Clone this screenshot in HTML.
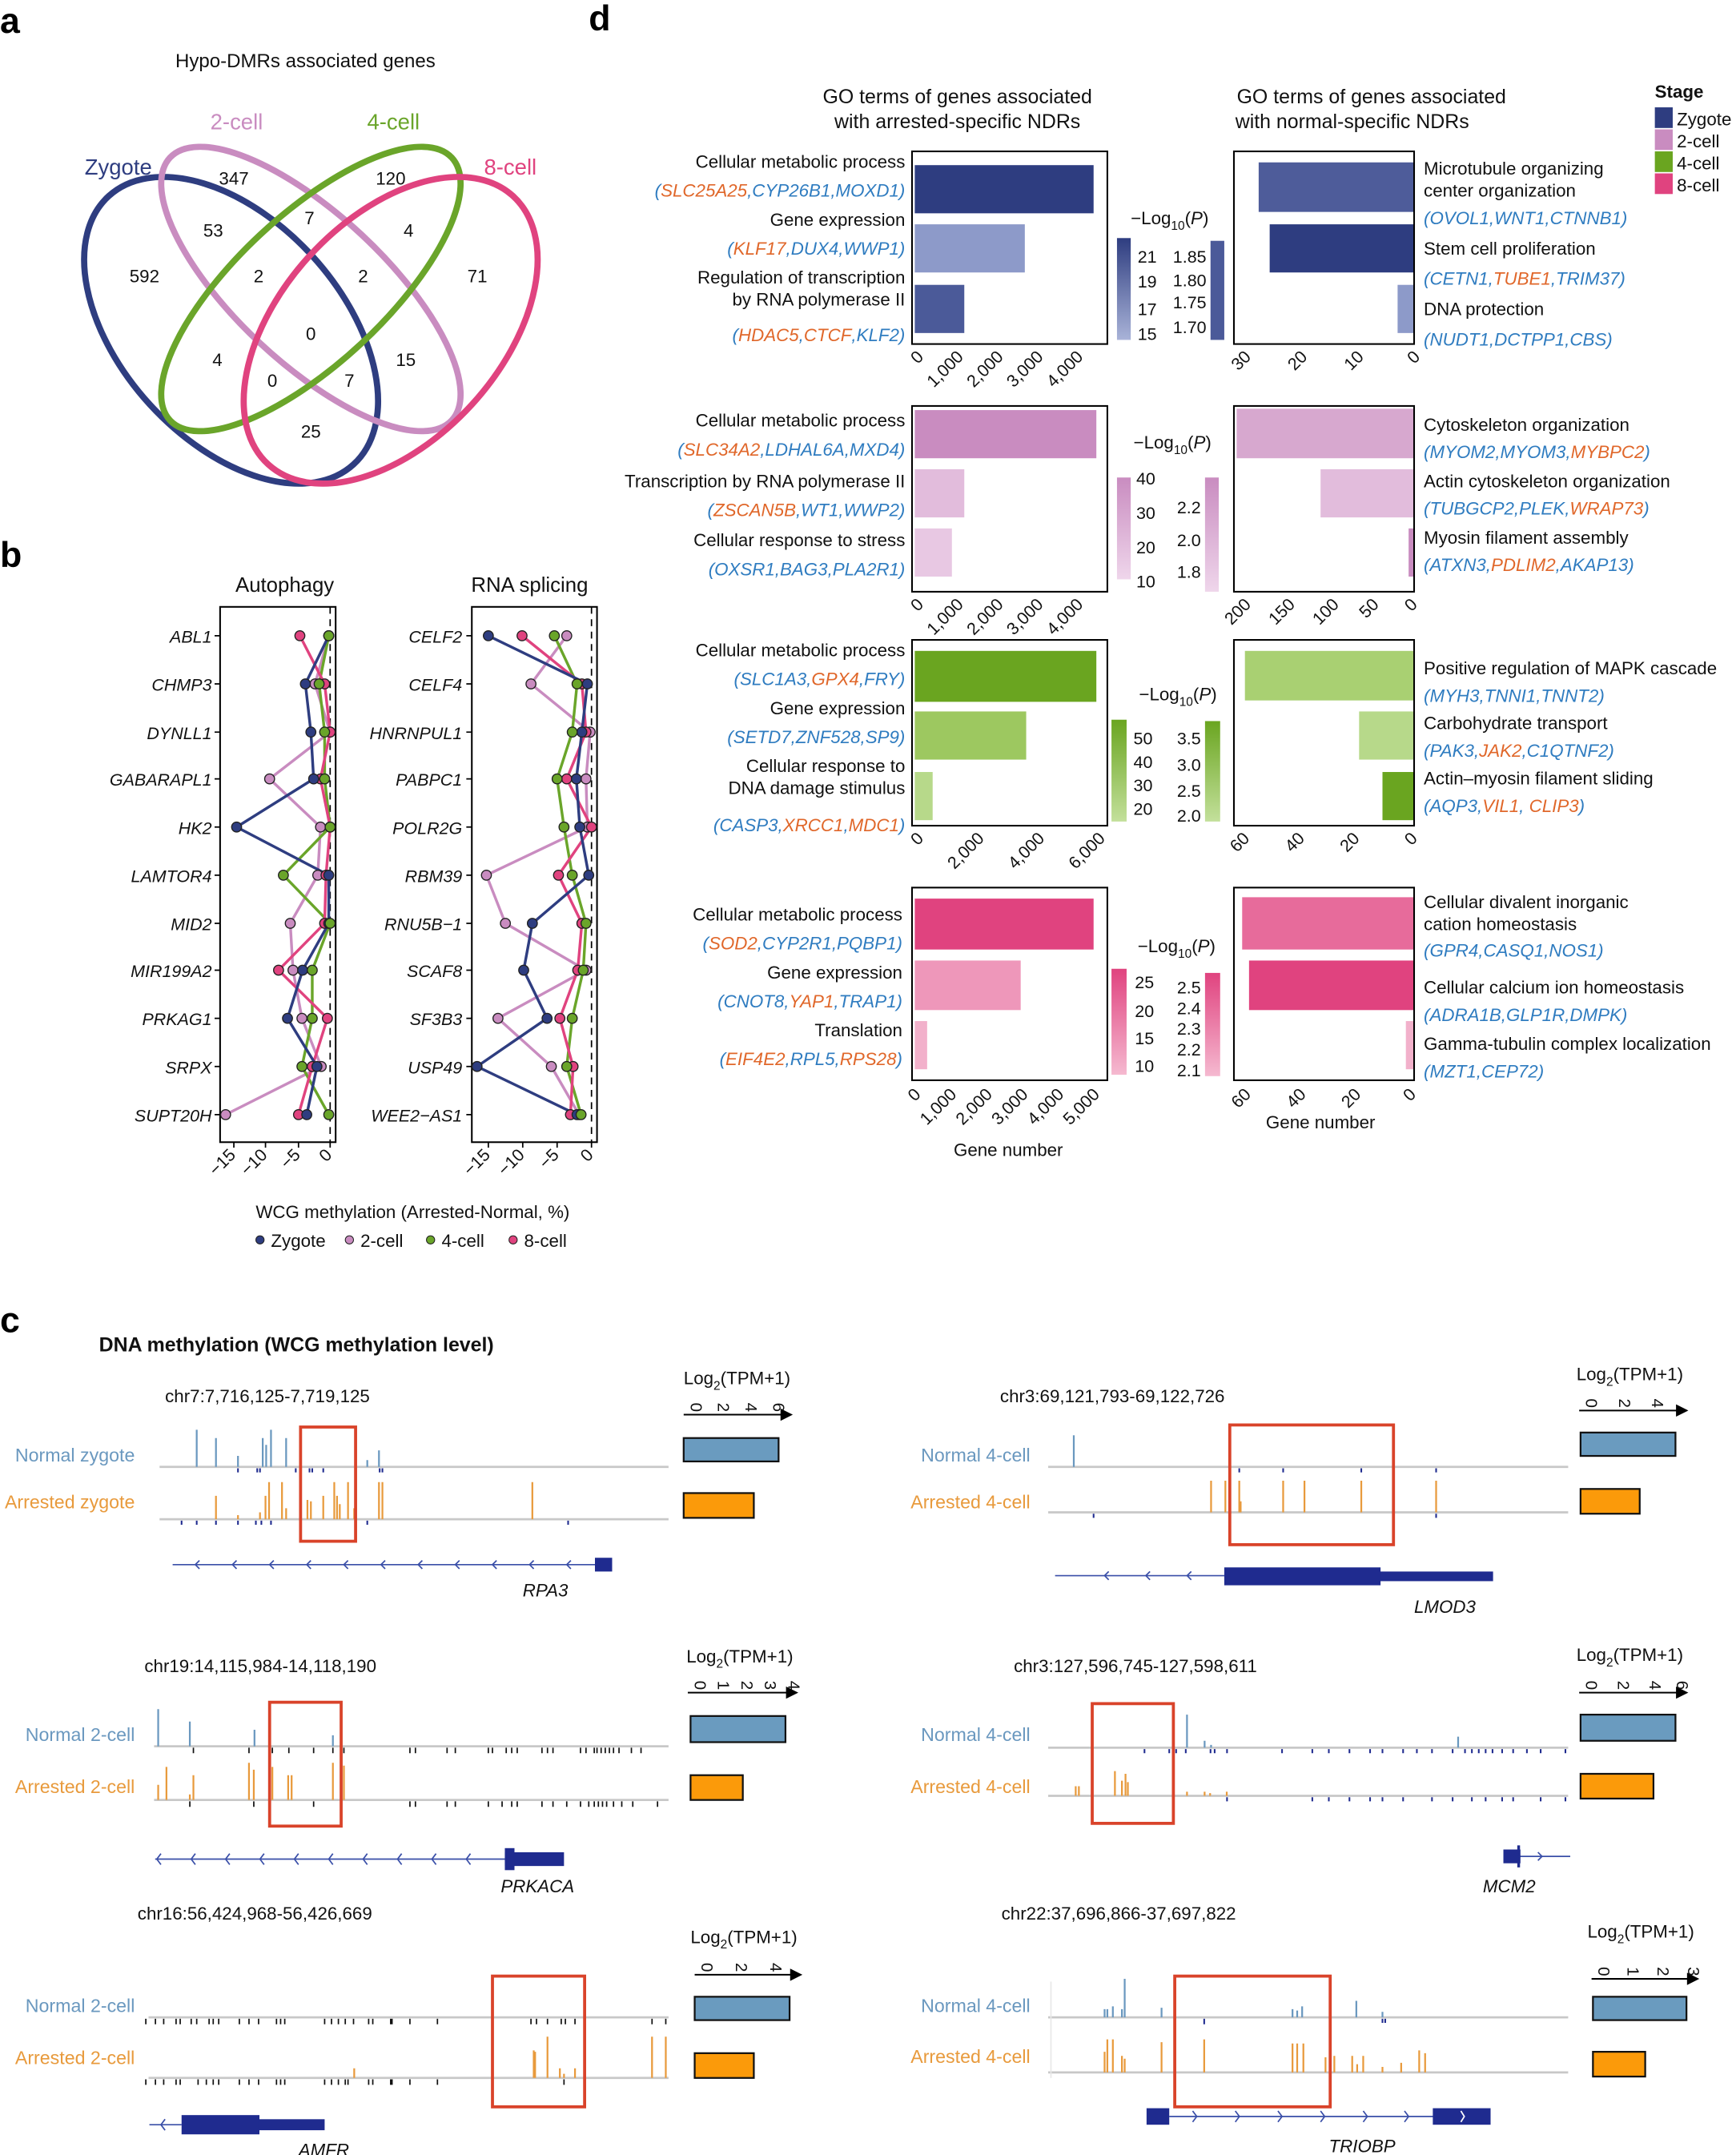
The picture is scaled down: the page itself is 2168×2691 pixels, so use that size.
<!DOCTYPE html>
<html><head><meta charset="utf-8">
<style>
html,body{margin:0;padding:0;background:#fff;}
svg{display:block;}
text{font-family:"Liberation Sans Narrow","Liberation Sans",sans-serif;}
.s{font-size:13px;fill:#111;}
.g{font-size:13px;font-style:italic;}
.bl{fill:#2f7cc0;}
.or{fill:#e0672a;}
.tk{font-size:12.5px;fill:#111;}
.pl{font-size:26px;font-weight:bold;font-family:"Liberation Sans",sans-serif;}
</style></head>
<body>
<svg width="2168" height="2691" viewBox="0 0 1262 1566" preserveAspectRatio="none" xmlns="http://www.w3.org/2000/svg">
<rect width="1262" height="1566" fill="#fff"/>
<defs>
<linearGradient id="gz" x1="0" y1="0" x2="0" y2="1"><stop offset="0" stop-color="#2e3d80"/><stop offset="1" stop-color="#a9b3d8"/></linearGradient>
<linearGradient id="g2" x1="0" y1="0" x2="0" y2="1"><stop offset="0" stop-color="#c98cc0"/><stop offset="1" stop-color="#efd6eb"/></linearGradient>
<linearGradient id="g4" x1="0" y1="0" x2="0" y2="1"><stop offset="0" stop-color="#6aa520"/><stop offset="1" stop-color="#c3e09b"/></linearGradient>
<linearGradient id="g8" x1="0" y1="0" x2="0" y2="1"><stop offset="0" stop-color="#e0437f"/><stop offset="1" stop-color="#f5b9d0"/></linearGradient>
</defs>

<!-- panel letters -->
<text x="0" y="24" class="pl">a</text>
<text x="0" y="412" class="pl">b</text>
<text x="0" y="968" class="pl">c</text>
<text x="428" y="22" class="pl">d</text>

<!-- ===== a: Venn ===== -->
<text x="222" y="49" class="s" style="font-size:14px" text-anchor="middle">Hypo-DMRs associated genes</text>
<g fill="none" stroke-width="4.5">
<ellipse cx="168" cy="240" rx="132" ry="80" transform="rotate(47.6 168 240)" stroke="#2e3d80"/>
<ellipse cx="226" cy="210" rx="140" ry="54" transform="rotate(43 226 210)" stroke="#c98cc0"/>
<ellipse cx="226" cy="210" rx="140" ry="54" transform="rotate(-43 226 210)" stroke="#6aa52a"/>
<ellipse cx="284" cy="240" rx="132" ry="80" transform="rotate(-47.6 284 240)" stroke="#e0437f"/>
</g>
<g style="font-size:16px" text-anchor="middle">
<text x="86" y="127" fill="#2e3d80">Zygote</text>
<text x="172" y="94" fill="#c98cc0">2-cell</text>
<text x="286" y="94" fill="#6aa52a">4-cell</text>
<text x="371" y="127" fill="#e0437f">8-cell</text>
</g>
<g class="s" text-anchor="middle" style="font-size:13px">
<text x="170" y="134">347</text><text x="284" y="134">120</text>
<text x="155" y="172">53</text><text x="225" y="163">7</text><text x="297" y="172">4</text>
<text x="105" y="205">592</text><text x="188" y="205">2</text><text x="264" y="205">2</text><text x="347" y="205">71</text>
<text x="226" y="247">0</text>
<text x="158" y="266">4</text><text x="198" y="281">0</text><text x="254" y="281">7</text><text x="295" y="266">15</text>
<text x="226" y="318">25</text>
</g>

<!-- ===== b ===== -->
<text x="207" y="430" class="s" style="font-size:15px" text-anchor="middle">Autophagy</text>
<text x="385" y="430" class="s" style="font-size:15px" text-anchor="middle">RNA splicing</text>
<rect x="160" y="441" width="84" height="389" fill="none" stroke="#000" stroke-width="1.2"/>
<rect x="343" y="441" width="91" height="389" fill="none" stroke="#000" stroke-width="1.2"/>
<line x1="240" y1="441" x2="240" y2="830" stroke="#000" stroke-dasharray="5,4"/>
<line x1="430" y1="441" x2="430" y2="830" stroke="#000" stroke-dasharray="5,4"/>
<g class="g" fill="#111" text-anchor="end" style="font-size:12.5px">
<text x="154" y="467">ABL1</text><text x="154" y="502">CHMP3</text><text x="154" y="537">DYNLL1</text><text x="154" y="571">GABARAPL1</text><text x="154" y="606">HK2</text><text x="154" y="641">LAMTOR4</text><text x="154" y="676">MID2</text><text x="154" y="710">MIR199A2</text><text x="154" y="745">PRKAG1</text><text x="154" y="780">SRPX</text><text x="154" y="815">SUPT20H</text>
<text x="336" y="467">CELF2</text><text x="336" y="502">CELF4</text><text x="336" y="537">HNRNPUL1</text><text x="336" y="571">PABPC1</text><text x="336" y="606">POLR2G</text><text x="336" y="641">RBM39</text><text x="336" y="676">RNU5B−1</text><text x="336" y="710">SCAF8</text><text x="336" y="745">SF3B3</text><text x="336" y="780">USP49</text><text x="336" y="815">WEE2−AS1</text>
</g>
<g stroke="#000" stroke-width="1">
<path d="M156 462h4M156 497h4M156 532h4M156 566h4M156 601h4M156 636h4M156 671h4M156 705h4M156 740h4M156 775h4M156 810h4"/>
<path d="M339 462h4M339 497h4M339 532h4M339 566h4M339 601h4M339 636h4M339 671h4M339 705h4M339 740h4M339 775h4M339 810h4"/>
<path d="M170 830v4M193 830v4M217 830v4M240 830v4M355 830v4M380 830v4M405 830v4M430 830v4"/>
</g>
<g class="tk" text-anchor="end">
<text transform="translate(172,840) rotate(-45)">−15</text>
<text transform="translate(195,840) rotate(-45)">−10</text>
<text transform="translate(219,840) rotate(-45)">−5</text>
<text transform="translate(242,840) rotate(-45)">0</text>
<text transform="translate(357,840) rotate(-45)">−15</text>
<text transform="translate(382,840) rotate(-45)">−10</text>
<text transform="translate(407,840) rotate(-45)">−5</text>
<text transform="translate(432,840) rotate(-45)">0</text>
</g>
<!-- lines -->
<g fill="none" stroke-width="2">
<polyline stroke="#c98cc0" points="239,462 229,497 240,532 196,566 233,601 231,636 211,671 213,705 219.5,740 233.5,775 164,810"/>
<polyline stroke="#6aa52a" points="239,462 232,497 236,532 236,566 240,601 206,636 240,671 227,705 227,740 219.5,775 239,810"/>
<polyline stroke="#e0437f" points="218,462 236,497 240,532 233,566 240,601 237,636 236,671 202.5,705 238,740 227,775 217,810"/>
<polyline stroke="#2e3d80" points="239,462 222,497 226,532 228,566 172,601 239,636 239,671 220,705 209,740 230.4,775 223,810"/>
<polyline stroke="#c98cc0" points="412,462 386,497 429,532 426,566 427,601 353.6,636 367.4,671 426,705 362,740 400.8,775 421,810"/>
<polyline stroke="#6aa52a" points="403,462 419.5,497 416,532 405,566 410,601 416,636 426,671 424,705 416,740 412,775 422.4,810"/>
<polyline stroke="#e0437f" points="379.5,462 423,497 426,532 412,566 430,601 406,636 423,671 420,705 407,740 416.6,775 414.7,810"/>
<polyline stroke="#2e3d80" points="355,462 427,497 423,532 419,566 421.5,601 428,636 387,671 380.7,705 397.7,740 346.8,775 419.5,810"/>
</g>
<g stroke="#222" stroke-width="0.8">
<g fill="#c98cc0"><circle cx="239" cy="462" r="3.6"/><circle cx="229" cy="497" r="3.6"/><circle cx="240" cy="532" r="3.6"/><circle cx="196" cy="566" r="3.6"/><circle cx="233" cy="601" r="3.6"/><circle cx="231" cy="636" r="3.6"/><circle cx="211" cy="671" r="3.6"/><circle cx="213" cy="705" r="3.6"/><circle cx="219.5" cy="740" r="3.6"/><circle cx="233.5" cy="775" r="3.6"/><circle cx="164" cy="810" r="3.6"/>
<circle cx="412" cy="462" r="3.6"/><circle cx="386" cy="497" r="3.6"/><circle cx="429" cy="532" r="3.6"/><circle cx="426" cy="566" r="3.6"/><circle cx="427" cy="601" r="3.6"/><circle cx="353.6" cy="636" r="3.6"/><circle cx="367.4" cy="671" r="3.6"/><circle cx="426" cy="705" r="3.6"/><circle cx="362" cy="740" r="3.6"/><circle cx="400.8" cy="775" r="3.6"/><circle cx="421" cy="810" r="3.6"/></g>
<g fill="#e0437f"><circle cx="218" cy="462" r="3.6"/><circle cx="236" cy="497" r="3.6"/><circle cx="240" cy="532" r="3.6"/><circle cx="233" cy="566" r="3.6"/><circle cx="240" cy="601" r="3.6"/><circle cx="237" cy="636" r="3.6"/><circle cx="236" cy="671" r="3.6"/><circle cx="202.5" cy="705" r="3.6"/><circle cx="238" cy="740" r="3.6"/><circle cx="227" cy="775" r="3.6"/><circle cx="217" cy="810" r="3.6"/>
<circle cx="379.5" cy="462" r="3.6"/><circle cx="423" cy="497" r="3.6"/><circle cx="426" cy="532" r="3.6"/><circle cx="412" cy="566" r="3.6"/><circle cx="430" cy="601" r="3.6"/><circle cx="406" cy="636" r="3.6"/><circle cx="423" cy="671" r="3.6"/><circle cx="420" cy="705" r="3.6"/><circle cx="407" cy="740" r="3.6"/><circle cx="416.6" cy="775" r="3.6"/><circle cx="414.7" cy="810" r="3.6"/></g>
<g fill="#2e3d80"><circle cx="239" cy="462" r="3.6"/><circle cx="222" cy="497" r="3.6"/><circle cx="226" cy="532" r="3.6"/><circle cx="228" cy="566" r="3.6"/><circle cx="172" cy="601" r="3.6"/><circle cx="239" cy="636" r="3.6"/><circle cx="239" cy="671" r="3.6"/><circle cx="220" cy="705" r="3.6"/><circle cx="209" cy="740" r="3.6"/><circle cx="230.4" cy="775" r="3.6"/><circle cx="223" cy="810" r="3.6"/>
<circle cx="355" cy="462" r="3.6"/><circle cx="427" cy="497" r="3.6"/><circle cx="423" cy="532" r="3.6"/><circle cx="419" cy="566" r="3.6"/><circle cx="421.5" cy="601" r="3.6"/><circle cx="428" cy="636" r="3.6"/><circle cx="387" cy="671" r="3.6"/><circle cx="380.7" cy="705" r="3.6"/><circle cx="397.7" cy="740" r="3.6"/><circle cx="346.8" cy="775" r="3.6"/><circle cx="419.5" cy="810" r="3.6"/></g>
<g fill="#6aa52a"><circle cx="239" cy="462" r="3.6"/><circle cx="232" cy="497" r="3.6"/><circle cx="236" cy="532" r="3.6"/><circle cx="236" cy="566" r="3.6"/><circle cx="240" cy="601" r="3.6"/><circle cx="206" cy="636" r="3.6"/><circle cx="240" cy="671" r="3.6"/><circle cx="227" cy="705" r="3.6"/><circle cx="227" cy="740" r="3.6"/><circle cx="219.5" cy="775" r="3.6"/><circle cx="239" cy="810" r="3.6"/>
<circle cx="403" cy="462" r="3.6"/><circle cx="419.5" cy="497" r="3.6"/><circle cx="416" cy="532" r="3.6"/><circle cx="405" cy="566" r="3.6"/><circle cx="410" cy="601" r="3.6"/><circle cx="416" cy="636" r="3.6"/><circle cx="426" cy="671" r="3.6"/><circle cx="424" cy="705" r="3.6"/><circle cx="416" cy="740" r="3.6"/><circle cx="412" cy="775" r="3.6"/><circle cx="422.4" cy="810" r="3.6"/></g>
</g>
<text x="300" y="885" class="s" text-anchor="middle">WCG methylation (Arrested-Normal, %)</text>
<g class="s">
<circle cx="189" cy="901" r="3" fill="#2e3d80" stroke="#222" stroke-width="0.6"/><text x="197" y="906">Zygote</text>
<circle cx="254" cy="901" r="3" fill="#c98cc0" stroke="#222" stroke-width="0.6"/><text x="262" y="906">2-cell</text>
<circle cx="313" cy="901" r="3" fill="#6aa52a" stroke="#222" stroke-width="0.6"/><text x="321" y="906">4-cell</text>
<circle cx="373" cy="901" r="3" fill="#e0437f" stroke="#222" stroke-width="0.6"/><text x="381" y="906">8-cell</text>
</g>

<!-- ===== d ===== -->
<text x="696" y="75" class="s" style="font-size:14.5px" text-anchor="middle">GO terms of genes associated</text>
<text x="696" y="93" class="s" style="font-size:14.5px" text-anchor="middle">with arrested-specific NDRs</text>
<text x="997" y="75" class="s" style="font-size:14.5px" text-anchor="middle">GO terms of genes associated</text>
<text x="983" y="93" class="s" style="font-size:14.5px" text-anchor="middle">with normal-specific NDRs</text>
<text x="1203" y="71" style="font-size:13px;font-weight:bold" fill="#111">Stage</text>
<rect x="1203" y="78" width="13" height="15" fill="#2e3d80"/><text x="1219" y="91" class="s">Zygote</text>
<rect x="1203" y="94" width="13" height="15" fill="#c98cc0"/><text x="1219" y="107" class="s">2-cell</text>
<rect x="1203" y="110" width="13" height="15" fill="#6aa520"/><text x="1219" y="123" class="s">4-cell</text>
<rect x="1203" y="126" width="13" height="15" fill="#e0437f"/><text x="1219" y="139" class="s">8-cell</text>

<!-- P1 zygote -->
<rect x="665" y="120" width="130" height="35" fill="#2e3d80"/>
<rect x="665" y="163" width="80" height="35" fill="#8d9ac9"/>
<rect x="665" y="207" width="36" height="35" fill="#4b5a99"/>
<rect x="663" y="110" width="142" height="140" fill="none" stroke="#000" stroke-width="1.2"/>
<g class="s" text-anchor="end">
<text x="658" y="122">Cellular metabolic process</text>
<text x="658" y="143" class="g bl">(<tspan class="or">SLC25A25</tspan>,CYP26B1,MOXD1)</text>
<text x="658" y="164">Gene expression</text>
<text x="658" y="185" class="g bl">(<tspan class="or">KLF17</tspan>,DUX4,WWP1)</text>
<text x="658" y="206">Regulation of transcription</text>
<text x="658" y="222">by RNA polymerase II</text>
<text x="658" y="248" class="g bl">(<tspan class="or">HDAC5</tspan>,<tspan class="or">CTCF</tspan>,KLF2)</text>
</g>
<g class="tk" text-anchor="end">
<text transform="translate(672,260) rotate(-45)">0</text>
<text transform="translate(701,260) rotate(-45)">1,000</text>
<text transform="translate(730,260) rotate(-45)">2,000</text>
<text transform="translate(759,260) rotate(-45)">3,000</text>
<text transform="translate(788,260) rotate(-45)">4,000</text>
</g>
<text x="822" y="163" class="s">−Log<tspan dy="4" style="font-size:9px">10</tspan><tspan dy="-4">(</tspan><tspan font-style="italic">P</tspan>)</text>
<rect x="812" y="173" width="10" height="74" fill="url(#gz)"/>
<g class="tk"><text x="827" y="191">21</text><text x="827" y="209">19</text><text x="827" y="229">17</text><text x="827" y="247">15</text></g>
<rect x="880" y="175" width="10" height="72" fill="#4b5a99"/>
<g class="tk" text-anchor="end"><text x="877" y="191">1.85</text><text x="877" y="208">1.80</text><text x="877" y="224">1.75</text><text x="877" y="242">1.70</text></g>
<rect x="915" y="118" width="113" height="36" fill="#4e5c9a"/>
<rect x="923" y="163" width="105" height="35" fill="#2e3d80"/>
<rect x="1016" y="207" width="12" height="35" fill="#8d9ac9"/>
<rect x="897" y="110" width="131" height="140" fill="none" stroke="#000" stroke-width="1.2"/>
<g class="tk" text-anchor="end">
<text transform="translate(910,260) rotate(-45)">30</text>
<text transform="translate(951,260) rotate(-45)">20</text>
<text transform="translate(992,260) rotate(-45)">10</text>
<text transform="translate(1033,260) rotate(-45)">0</text>
</g>
<g class="s">
<text x="1035" y="127">Microtubule organizing</text>
<text x="1035" y="143">center organization</text>
<text x="1035" y="163" class="g bl">(OVOL1,WNT1,CTNNB1)</text>
<text x="1035" y="185">Stem cell proliferation</text>
<text x="1035" y="207" class="g bl">(CETN1,<tspan class="or">TUBE1</tspan>,TRIM37)</text>
<text x="1035" y="229">DNA protection</text>
<text x="1035" y="251" class="g bl">(NUDT1,DCTPP1,CBS)</text>
</g>

<!-- P2 2-cell -->
<rect x="665" y="298" width="132" height="35" fill="#c98cc0"/>
<rect x="665" y="341" width="36" height="35" fill="#e2bcdc"/>
<rect x="665" y="384" width="27" height="35" fill="#e8c8e3"/>
<rect x="663" y="295" width="142" height="135" fill="none" stroke="#000" stroke-width="1.2"/>
<g class="s" text-anchor="end">
<text x="658" y="310">Cellular metabolic process</text>
<text x="658" y="331" class="g bl">(<tspan class="or">SLC34A2</tspan>,LDHAL6A,MXD4)</text>
<text x="658" y="354">Transcription by RNA polymerase II</text>
<text x="658" y="375" class="g bl">(<tspan class="or">ZSCAN5B</tspan>,WT1,WWP2)</text>
<text x="658" y="397">Cellular response to stress</text>
<text x="658" y="418" class="g bl">(OXSR1,BAG3,PLA2R1)</text>
</g>
<g class="tk" text-anchor="end">
<text transform="translate(672,440) rotate(-45)">0</text>
<text transform="translate(701,440) rotate(-45)">1,000</text>
<text transform="translate(730,440) rotate(-45)">2,000</text>
<text transform="translate(759,440) rotate(-45)">3,000</text>
<text transform="translate(788,440) rotate(-45)">4,000</text>
</g>
<text x="824" y="326" class="s">−Log<tspan dy="4" style="font-size:9px">10</tspan><tspan dy="-4">(</tspan><tspan font-style="italic">P</tspan>)</text>
<rect x="812" y="347" width="10" height="74" fill="url(#g2)"/>
<g class="tk"><text x="826" y="352">40</text><text x="826" y="377">30</text><text x="826" y="402">20</text><text x="826" y="427">10</text></g>
<rect x="876" y="347" width="10" height="83" fill="url(#g2)"/>
<g class="tk" text-anchor="end"><text x="873" y="373">2.2</text><text x="873" y="397">2.0</text><text x="873" y="420">1.8</text></g>
<rect x="899" y="297" width="129" height="36" fill="#d7a8cf"/>
<rect x="960" y="341" width="68" height="35" fill="#e2bcdc"/>
<rect x="1024" y="384" width="4" height="35" fill="#c98cc0"/>
<rect x="897" y="295" width="131" height="135" fill="none" stroke="#000" stroke-width="1.2"/>
<g class="tk" text-anchor="end">
<text transform="translate(910,440) rotate(-45)">200</text>
<text transform="translate(942,440) rotate(-45)">150</text>
<text transform="translate(974,440) rotate(-45)">100</text>
<text transform="translate(1003,440) rotate(-45)">50</text>
<text transform="translate(1031,440) rotate(-45)">0</text>
</g>
<g class="s">
<text x="1035" y="313">Cytoskeleton organization</text>
<text x="1035" y="333" class="g bl">(MYOM2,MYOM3,<tspan class="or">MYBPC2</tspan>)</text>
<text x="1035" y="354">Actin cytoskeleton organization</text>
<text x="1035" y="374" class="g bl">(TUBGCP2,PLEK,<tspan class="or">WRAP73</tspan>)</text>
<text x="1035" y="395">Myosin filament assembly</text>
<text x="1035" y="415" class="g bl">(ATXN3,<tspan class="or">PDLIM2</tspan>,AKAP13)</text>
</g>

<!-- P3 4-cell -->
<rect x="665" y="473" width="132" height="37" fill="#6aa520"/>
<rect x="665" y="517" width="81" height="35" fill="#9dc860"/>
<rect x="665" y="561" width="13" height="35" fill="#b7d98a"/>
<rect x="663" y="465" width="142" height="135" fill="none" stroke="#000" stroke-width="1.2"/>
<g class="s" text-anchor="end">
<text x="658" y="477">Cellular metabolic process</text>
<text x="658" y="498" class="g bl">(SLC1A3,<tspan class="or">GPX4</tspan>,FRY)</text>
<text x="658" y="519">Gene expression</text>
<text x="658" y="540" class="g bl">(SETD7,ZNF528,SP9)</text>
<text x="658" y="561">Cellular response to</text>
<text x="658" y="577">DNA damage stimulus</text>
<text x="658" y="604" class="g bl">(CASP3,<tspan class="or">XRCC1</tspan>,<tspan class="or">MDC1</tspan>)</text>
</g>
<g class="tk" text-anchor="end">
<text transform="translate(672,610) rotate(-45)">0</text>
<text transform="translate(716,610) rotate(-45)">2,000</text>
<text transform="translate(760,610) rotate(-45)">4,000</text>
<text transform="translate(804,610) rotate(-45)">6,000</text>
</g>
<text x="828" y="509" class="s">−Log<tspan dy="4" style="font-size:9px">10</tspan><tspan dy="-4">(</tspan><tspan font-style="italic">P</tspan>)</text>
<rect x="808" y="523" width="11" height="74" fill="url(#g4)"/>
<g class="tk"><text x="824" y="541">50</text><text x="824" y="558">40</text><text x="824" y="575">30</text><text x="824" y="592">20</text></g>
<rect x="876" y="524" width="11" height="73" fill="url(#g4)"/>
<g class="tk" text-anchor="end"><text x="873" y="541">3.5</text><text x="873" y="560">3.0</text><text x="873" y="579">2.5</text><text x="873" y="597">2.0</text></g>
<rect x="905" y="473" width="123" height="36" fill="#a9d072"/>
<rect x="988" y="517" width="40" height="35" fill="#b7d98a"/>
<rect x="1005" y="561" width="23" height="35" fill="#6aa520"/>
<rect x="897" y="465" width="131" height="135" fill="none" stroke="#000" stroke-width="1.2"/>
<g class="tk" text-anchor="end">
<text transform="translate(909,610) rotate(-45)">60</text>
<text transform="translate(949,610) rotate(-45)">40</text>
<text transform="translate(989,610) rotate(-45)">20</text>
<text transform="translate(1031,610) rotate(-45)">0</text>
</g>
<g class="s">
<text x="1035" y="490">Positive regulation of MAPK cascade</text>
<text x="1035" y="510" class="g bl">(MYH3,TNNI1,TNNT2)</text>
<text x="1035" y="530">Carbohydrate transport</text>
<text x="1035" y="550" class="g bl">(PAK3,<tspan class="or">JAK2</tspan>,C1QTNF2)</text>
<text x="1035" y="570">Actin–myosin filament sliding</text>
<text x="1035" y="590" class="g bl">(AQP3,<tspan class="or">VIL1</tspan>, <tspan class="or">CLIP3</tspan>)</text>
</g>

<!-- P4 8-cell -->
<rect x="665" y="653" width="130" height="37" fill="#e0437f"/>
<rect x="665" y="698" width="77" height="36" fill="#ee97ba"/>
<rect x="665" y="742" width="9" height="35" fill="#f2b1cb"/>
<rect x="663" y="645" width="142" height="140" fill="none" stroke="#000" stroke-width="1.2"/>
<g class="s" text-anchor="end">
<text x="656" y="669">Cellular metabolic process</text>
<text x="656" y="690" class="g bl">(<tspan class="or">SOD2</tspan>,CYP2R1,PQBP1)</text>
<text x="656" y="711">Gene expression</text>
<text x="656" y="732" class="g bl">(CNOT8,<tspan class="or">YAP1</tspan>,TRAP1)</text>
<text x="656" y="753">Translation</text>
<text x="656" y="774" class="g bl">(<tspan class="or">EIF4E2</tspan>,RPL5,<tspan class="or">RPS28</tspan>)</text>
</g>
<g class="tk" text-anchor="end">
<text transform="translate(670,796) rotate(-45)">0</text>
<text transform="translate(696,796) rotate(-45)">1,000</text>
<text transform="translate(722,796) rotate(-45)">2,000</text>
<text transform="translate(748,796) rotate(-45)">3,000</text>
<text transform="translate(774,796) rotate(-45)">4,000</text>
<text transform="translate(800,796) rotate(-45)">5,000</text>
</g>
<text x="733" y="840" class="s" text-anchor="middle">Gene number</text>
<text x="827" y="692" class="s">−Log<tspan dy="4" style="font-size:9px">10</tspan><tspan dy="-4">(</tspan><tspan font-style="italic">P</tspan>)</text>
<rect x="808" y="704" width="11" height="77" fill="url(#g8)"/>
<g class="tk"><text x="825" y="718">25</text><text x="825" y="739">20</text><text x="825" y="759">15</text><text x="825" y="779">10</text></g>
<rect x="876" y="707" width="11" height="75" fill="url(#g8)"/>
<g class="tk" text-anchor="end"><text x="873" y="722">2.5</text><text x="873" y="737">2.4</text><text x="873" y="752">2.3</text><text x="873" y="767">2.2</text><text x="873" y="782">2.1</text></g>
<rect x="903" y="652" width="125" height="38" fill="#e76b9b"/>
<rect x="908" y="698" width="120" height="36" fill="#e0437f"/>
<rect x="1022" y="742" width="6" height="35" fill="#f2b1cb"/>
<rect x="897" y="645" width="131" height="140" fill="none" stroke="#000" stroke-width="1.2"/>
<g class="tk" text-anchor="end">
<text transform="translate(910,796) rotate(-45)">60</text>
<text transform="translate(950,796) rotate(-45)">40</text>
<text transform="translate(990,796) rotate(-45)">20</text>
<text transform="translate(1030,796) rotate(-45)">0</text>
</g>
<text x="960" y="820" class="s" text-anchor="middle">Gene number</text>
<g class="s">
<text x="1035" y="660">Cellular divalent inorganic</text>
<text x="1035" y="676">cation homeostasis</text>
<text x="1035" y="695" class="g bl">(GPR4,CASQ1,NOS1)</text>
<text x="1035" y="722">Cellular calcium ion homeostasis</text>
<text x="1035" y="742" class="g bl">(ADRA1B,GLP1R,DMPK)</text>
<text x="1035" y="763">Gamma-tubulin complex localization</text>
<text x="1035" y="783" class="g bl">(MZT1,CEP72)</text>
</g>

<!-- ===== c ===== -->
<text x="72" y="982" style="font-size:14.5px;font-weight:bold" fill="#111">DNA methylation (WCG methylation level)</text>
<g id="c-common" stroke-width="1.6">
<!-- baselines -->
<g stroke="#c8c8c8" stroke-width="1.6">
<path d="M116 1066H486M116 1104H486"/>
<path d="M762 1066H1140M762 1099H1140"/>
<path d="M112 1269H486M112 1308H486"/>
<path d="M762 1270H1140M762 1305H1140"/>
<path d="M108 1466H486M108 1510H486"/>
<path d="M762 1466H1140M762 1506H1140"/>
</g>
</g>
<g class="s" text-anchor="end" style="font-size:13.5px">
<text x="98" y="1062" fill="#6a98bf">Normal zygote</text><text x="98" y="1096" fill="#e89a3c">Arrested zygote</text>
<text x="98" y="1265" fill="#6a98bf">Normal 2-cell</text><text x="98" y="1303" fill="#e89a3c">Arrested 2-cell</text>
<text x="98" y="1462" fill="#6a98bf">Normal 2-cell</text><text x="98" y="1500" fill="#e89a3c">Arrested 2-cell</text>
<text x="749" y="1062" fill="#6a98bf">Normal 4-cell</text><text x="749" y="1096" fill="#e89a3c">Arrested 4-cell</text>
<text x="749" y="1265" fill="#6a98bf">Normal 4-cell</text><text x="749" y="1303" fill="#e89a3c">Arrested 4-cell</text>
<text x="749" y="1462" fill="#6a98bf">Normal 4-cell</text><text x="749" y="1499" fill="#e89a3c">Arrested 4-cell</text>
</g>
<g class="s">
<text x="120" y="1019">chr7:7,716,125-7,719,125</text>
<text x="727" y="1019">chr3:69,121,793-69,122,726</text>
<text x="105" y="1215">chr19:14,115,984-14,118,190</text>
<text x="737" y="1215">chr3:127,596,745-127,598,611</text>
<text x="100" y="1395">chr16:56,424,968-56,426,669</text>
<text x="728" y="1395">chr22:37,696,866-37,697,822</text>
</g>
<g class="g" fill="#111">
<text x="380" y="1160">RPA3</text>
<text x="1028" y="1172">LMOD3</text>
<text x="364" y="1375">PRKACA</text>
<text x="1078" y="1375">MCM2</text>
<text x="217" y="1567">AMFR</text>
<text x="966" y="1564">TRIOBP</text>
</g>
<!-- normal spikes (steel blue) -->
<g stroke="#6a98bf" stroke-width="1.3">
<path d="M143 1066v-27M157 1066v-21M173 1066v-8M191 1066v-21M193.5 1066v-16M197 1066v-27M208 1066v-21M267 1066v-5M275.5 1066v-12"/>
<path d="M780.6 1066v-23"/>
<path d="M115 1269v-27M138 1269v-18M185 1269v-12M242 1269v-8"/>
<path d="M862.9 1270v-24M875.7 1270v-5M880.4 1270v-2M1060 1270v-8"/>
<path d="M803 1466v-6M805 1466v-6M809 1466v-8M815.6 1466v-6M817.6 1466v-28M844.4 1466v-7M939.6 1466v-6M943 1466v-5M946.6 1466v-8M986 1466v-12M1005 1466v-4"/>
</g>
<!-- arrested spikes (orange) -->
<g stroke="#e89a3c" stroke-width="1.3">
<path d="M157 1104v-17M173 1104v-3M189 1104v-5M193 1104v-17M195.6 1104v-27M205 1104v-27M208 1104v-8M223.5 1104v-14M226 1104v-13M235 1104v-17M243 1104v-27M245 1104v-17M247 1104v-11M253 1104v-27M257.5 1104v-8M275.5 1104v-27M278 1104v-27M387 1104v-27"/>
<path d="M880.4 1099v-23M890.8 1099v-23M900.9 1099v-23M901.9 1099v-8M932.8 1099v-23M948.3 1099v-23M989.6 1099v-23M1044 1099v-23"/>
<path d="M115 1308v-11M121 1308v-24M138 1308v-4M140.6 1308v-18M181 1308v-27M184.5 1308v-22M198 1308v-24M209.5 1308v-18M212 1308v-18M242 1308v-27M250 1308v-25"/>
<path d="M782 1305v-7M784.3 1305v-7M810.5 1305v-18M815.6 1305v-11M818.2 1305v-16M819.9 1305v-10M862.9 1305v-3M875.7 1305v-3M879.7 1305v-2M891.8 1305v-3"/>
<path d="M257.5 1510v-7M388 1510v-20M389 1510v-19M398 1510v-30M407 1510v-7M410 1510v-3M418 1510v-7M474 1510v-30M484 1510v-30"/>
<path d="M803 1506v-15M805 1506v-24M809 1506v-24M815.6 1506v-12M817.6 1506v-10M844.4 1506v-22M875.4 1506v-24M939.6 1506v-21M943 1506v-21M947.5 1506v-21M963.6 1506v-11M970 1506v-12M983 1506v-12M986.6 1506v-6M991 1506v-12M1005 1506v-4M1018.6 1506v-7M1031.7 1506v-16M1036 1506v-14"/>
</g>
<!-- small ticks below -->
<g stroke="#1f2b8f" stroke-width="1.2">
<path d="M173 1067v3M187 1067v3M189 1067v3M215 1067v3M225 1067v3M227 1067v3M235 1067v3M276 1067v3M278 1067v3M132 1105v3M143 1105v3M157 1105v3M173 1105v3M186 1105v3M190 1105v3M197 1105v3M267 1105v3M413 1105v3"/>
<path d="M900.9 1067v3M932.8 1067v3M989.6 1067v3M1044 1067v3M795 1100v3M1044 1100v3"/>
<path d="M832 1271v3M850 1271v3M855 1271v3M862 1271v3M880 1271v3M883 1271v3M892 1271v3M932 1271v3M954 1271v3M966 1271v3M981 1271v3M996 1271v3M1005 1271v3M1020 1271v3M1030 1271v3M1041 1271v3M1056 1271v3M1065 1271v3M1070 1271v3M1075 1271v3M1080 1271v3M1085 1271v3M1092 1271v3M1100 1271v3M1110 1271v3M1120 1271v3M1138 1271v3"/>
<path d="M892 1306v3M954 1306v3M966 1306v3M981 1306v3M996 1306v3M1005 1306v3M1020 1306v3M1041 1306v3M1056 1306v3M1070 1306v3M1080 1306v3M1092 1306v3M1100 1306v3M1120 1306v3M1138 1306v3"/>
<path d="M875.4 1467v4M1005 1467v3M1007 1467v3"/>
</g>
<g stroke="#111" stroke-width="1">
<path d="M140.6 1270v4M181 1270v4M198 1270v4M210 1270v4M228 1270v4M242 1270v4M250 1270v4M298 1270v4M302 1270v4M325 1270v4M331 1270v4M355 1270v4M358 1270v4M368 1270v4M372 1270v4M376 1270v4M394 1270v4M398 1270v4M402 1270v4M422 1270v4M426 1270v4M432 1270v4M434 1270v4M437 1270v4M440 1270v4M443 1270v4M446 1270v4M450 1270v4M459 1270v4M466 1270v4"/>
<path d="M138 1309v4M184.5 1309v4M228 1309v4M298 1309v4M302 1309v4M325 1309v4M331 1309v4M355 1309v4M365 1309v4M372 1309v4M376 1309v4M394 1309v4M402 1309v4M412 1309v4M422 1309v4M428 1309v4M432 1309v4M435 1309v4M438 1309v4M441 1309v4M446 1309v4M452 1309v4M460 1309v4M478 1309v4"/>
<path d="M106 1467v4M113 1467v4M119 1467v4M128 1467v4M131 1467v4M139 1467v4M143 1467v4M152 1467v4M155 1467v4M159 1467v4M174 1467v4M181 1467v4M188 1467v4M201 1467v4M204 1467v4M207 1467v4M236 1467v4M241 1467v4M246 1467v4M251 1467v4M257 1467v4M268 1467v4M271 1467v4M284 1467v4M285 1467v4M298 1467v4M318 1467v4M386 1467v4M390 1467v4M398 1467v4M408 1467v4M411 1467v4M418 1467v4M474 1467v4M484 1467v4"/>
<path d="M106 1511v4M113 1511v4M119 1511v4M128 1511v4M131 1511v4M144 1511v4M150 1511v4M155 1511v4M159 1511v4M174 1511v4M181 1511v4M188 1511v4M201 1511v4M204 1511v4M207 1511v4M236 1511v4M241 1511v4M246 1511v4M251 1511v4M253 1511v4M268 1511v4M271 1511v4M284 1511v4M285 1511v4M298 1511v4M318 1511v4M410 1511v4"/>
</g>
<!-- red boxes -->
<g fill="none" stroke="#d9432a" stroke-width="2.2">
<rect x="218.5" y="1037" width="40" height="83"/>
<rect x="894" y="1035.5" width="119" height="87"/>
<rect x="196" y="1237" width="52" height="90"/>
<rect x="794" y="1238" width="59" height="87"/>
<rect x="358" y="1436" width="67" height="95"/>
<rect x="854" y="1436" width="113" height="95"/>
</g>
<!-- gene models -->
<g stroke="#3a4fa8" stroke-width="1" fill="none">
<path d="M125.5 1137H433M767 1145H890M112.8 1351H367M108.6 1544H132M1105 1349H1141.5M850 1538H1042"/>
<path d="M145 1134l-3 3 3 3M172 1134l-3 3 3 3M199 1134l-3 3 3 3M226 1134l-3 3 3 3M253 1134l-3 3 3 3M280 1134l-3 3 3 3M307 1134l-3 3 3 3M334 1134l-3 3 3 3M361 1134l-3 3 3 3M388 1134l-3 3 3 3M415 1134l-3 3 3 3"/>
<path d="M806 1142l-3 3 3 3M836 1142l-3 3 3 3M866 1142l-3 3 3 3"/>
<path d="M117 1347l-3 4 3 4M142 1347l-3 4 3 4M167 1347l-3 4 3 4M192 1347l-3 4 3 4M217 1347l-3 4 3 4M242 1347l-3 4 3 4M267 1347l-3 4 3 4M292 1347l-3 4 3 4M317 1347l-3 4 3 4M342 1347l-3 4 3 4"/>
<path d="M120 1540l-3 4 3 4M1118 1346l3 3-3 3"/>
<path d="M867 1534l3 4-3 4M898 1534l3 4-3 4M929 1534l3 4-3 4M960 1534l3 4-3 4M991 1534l3 4-3 4M1021 1534l3 4-3 4"/>
</g>
<g fill="#1f2b8f">
<rect x="432.5" y="1132" width="12.5" height="10"/>
<rect x="890" y="1139" width="113.6" height="13"/><rect x="1003" y="1142" width="82.4" height="7"/>
<rect x="367" y="1346" width="43" height="10"/><rect x="367" y="1343" width="7" height="16"/>
<rect x="132" y="1537" width="56.6" height="14"/><rect x="188" y="1540" width="48" height="8"/>
<rect x="1092.9" y="1344" width="12.4" height="10"/><rect x="1103" y="1341" width="2" height="16"/>
<rect x="833.5" y="1532" width="16.5" height="12"/><rect x="1041.6" y="1532" width="42" height="12"/>
</g>
<path d="M1062 1534l2.5 4-2.5 4" stroke="#fff" fill="none" stroke-width="1"/>
<!-- expression axes and bars -->
<g class="s" style="font-size:13px">
<text x="497" y="1006">Log<tspan dy="4" style="font-size:9px">2</tspan><tspan dy="-4">(TPM+1)</tspan></text>
<text x="1146" y="1003">Log<tspan dy="4" style="font-size:9px">2</tspan><tspan dy="-4">(TPM+1)</tspan></text>
<text x="499" y="1208">Log<tspan dy="4" style="font-size:9px">2</tspan><tspan dy="-4">(TPM+1)</tspan></text>
<text x="1146" y="1207">Log<tspan dy="4" style="font-size:9px">2</tspan><tspan dy="-4">(TPM+1)</tspan></text>
<text x="502" y="1412">Log<tspan dy="4" style="font-size:9px">2</tspan><tspan dy="-4">(TPM+1)</tspan></text>
<text x="1154" y="1408">Log<tspan dy="4" style="font-size:9px">2</tspan><tspan dy="-4">(TPM+1)</tspan></text>
</g>
<g stroke="#000" stroke-width="1.2" fill="#000">
<path d="M497 1028H573" fill="none"/><path d="M575 1028l-7-3.5v7z"/>
<path d="M1148 1025H1224" fill="none"/><path d="M1226 1025l-7-3.5v7z"/>
<path d="M500 1230H577" fill="none"/><path d="M579 1230l-7-3.5v7z"/>
<path d="M1148 1230H1224" fill="none"/><path d="M1226 1230l-7-3.5v7z"/>
<path d="M505 1435H580" fill="none"/><path d="M582 1435l-7-3.5v7z"/>
<path d="M1157 1438H1232" fill="none"/><path d="M1234 1438l-7-3.5v7z"/>
</g>
<g class="tk" style="font-size:12px">
<text transform="translate(502,1026) rotate(90)" text-anchor="end">0</text>
<text transform="translate(522,1026) rotate(90)" text-anchor="end">2</text>
<text transform="translate(542,1026) rotate(90)" text-anchor="end">4</text>
<text transform="translate(562,1026) rotate(90)" text-anchor="end">6</text>
<text transform="translate(1153,1023) rotate(90)" text-anchor="end">0</text>
<text transform="translate(1177,1023) rotate(90)" text-anchor="end">2</text>
<text transform="translate(1201,1023) rotate(90)" text-anchor="end">4</text>
<text transform="translate(505,1228) rotate(90)" text-anchor="end">0</text>
<text transform="translate(522,1228) rotate(90)" text-anchor="end">1</text>
<text transform="translate(539,1228) rotate(90)" text-anchor="end">2</text>
<text transform="translate(556,1228) rotate(90)" text-anchor="end">3</text>
<text transform="translate(573,1228) rotate(90)" text-anchor="end">4</text>
<text transform="translate(1153,1228) rotate(90)" text-anchor="end">0</text>
<text transform="translate(1176,1228) rotate(90)" text-anchor="end">2</text>
<text transform="translate(1199,1228) rotate(90)" text-anchor="end">4</text>
<text transform="translate(1219,1228) rotate(90)" text-anchor="end">6</text>
<text transform="translate(510,1433) rotate(90)" text-anchor="end">0</text>
<text transform="translate(535,1433) rotate(90)" text-anchor="end">2</text>
<text transform="translate(560,1433) rotate(90)" text-anchor="end">4</text>
<text transform="translate(1162,1436) rotate(90)" text-anchor="end">0</text>
<text transform="translate(1183,1436) rotate(90)" text-anchor="end">1</text>
<text transform="translate(1205,1436) rotate(90)" text-anchor="end">2</text>
<text transform="translate(1227,1436) rotate(90)" text-anchor="end">3</text>
</g>
<g stroke="#111" stroke-width="1.3">
<rect x="497" y="1045" width="69" height="17" fill="#6a9bbf"/>
<rect x="497" y="1085" width="51" height="18" fill="#fb9a0a"/>
<rect x="1149" y="1041" width="69" height="17" fill="#6a9bbf"/>
<rect x="1149" y="1082" width="43" height="18" fill="#fb9a0a"/>
<rect x="502" y="1247" width="69" height="19" fill="#6a9bbf"/>
<rect x="502" y="1290" width="38" height="18" fill="#fb9a0a"/>
<rect x="1149" y="1246" width="69" height="19" fill="#6a9bbf"/>
<rect x="1149" y="1289" width="53" height="18" fill="#fb9a0a"/>
<rect x="505" y="1451" width="69" height="17" fill="#6a9bbf"/>
<rect x="505" y="1492" width="43" height="18" fill="#fb9a0a"/>
<rect x="1158" y="1451" width="68" height="17" fill="#6a9bbf"/>
<rect x="1158" y="1491" width="38" height="18" fill="#fb9a0a"/>
</g>
<path d="M764 1440V1510" stroke="#e8e8e8" stroke-width="1"/>
</svg>
</body></html>
